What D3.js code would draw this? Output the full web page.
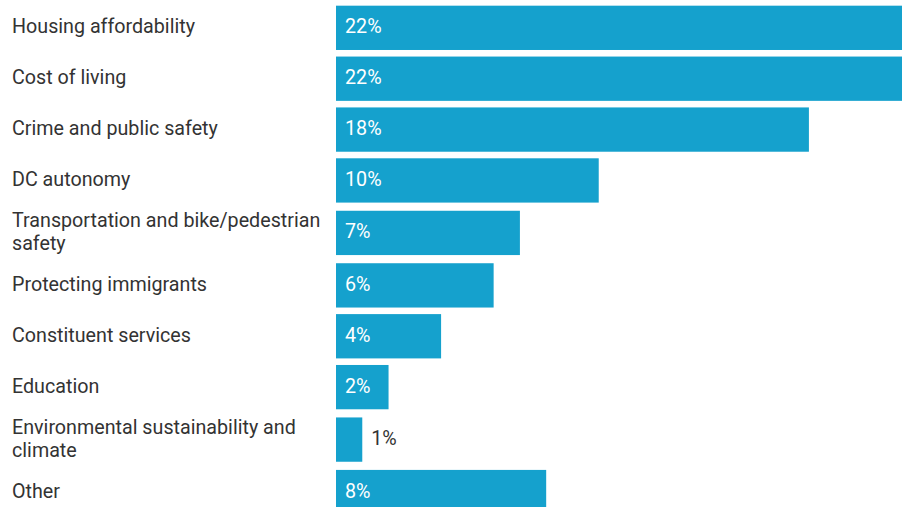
<!DOCTYPE html>
<html>
<head>
<meta charset="utf-8">
<script src="https://cdn.jsdelivr.net/npm/d3@7"></script>
<style>
  html, body { margin: 0; padding: 0; background: #fff; }
  svg { display: block; }
  text { font-family: Roboto, "Noto Sans", sans-serif; font-weight: 400; }
</style>
</head>
<body>
<svg id="chart" width="902" height="507"></svg>
<script>
const categories = [
  "Housing affordability",
  "Cost of living",
  "Crime and public safety",
  "DC autonomy",
  "Transportation and bike/pedestrian safety",
  "Protecting immigrants",
  "Constituent services",
  "Education",
  "Environmental sustainability and climate",
  "Other"
];
const values = [22, 22, 18, 10, 7, 6, 4, 2, 1, 8];
const valueLabels = ["22%", "22%", "18%", "10%", "7%", "6%", "4%", "2%", "1%", "8%"];

const W = 902, H = 507;
const barX0 = 336;
const labelX = 12;
const maxW = 318;
const lh = 23;
const fs = 19.7;
const dy = 5.5;
const rowBase = 50.87;     // slot height for a one-line row
const rowExtra = 3.2;      // extra slot height per additional label line
const barH = 44.3;
const top0 = 2.4;

const svg = d3.select("#chart");
const data = categories.map((c, i) => ({ c, v: values[i], label: valueLabels[i] }));

// 1) wrap category labels to find line counts
const catText = svg.selectAll("text.cat").data(data).join("text")
  .attr("class", "cat")
  .attr("x", labelX)
  .attr("font-size", fs)
  .attr("fill", "#333")
  .each(function(d) {
    const t = d3.select(this);
    const words = d.c.split(" ");
    const lines = [];
    let line = [];
    const tmp = t.append("tspan");
    for (const w of words) {
      line.push(w);
      tmp.text(line.join(" "));
      if (tmp.node().getComputedTextLength() > maxW && line.length > 1) {
        line.pop();
        lines.push(line.join(" "));
        line = [w];
      }
    }
    lines.push(line.join(" "));
    tmp.remove();
    d.lines = lines;
  });

// 2) row layout: each slot grows with the number of label lines
let acc = 0;
const slotStart = [], slotH = [];
data.forEach(d => {
  const h = rowBase + (d.lines.length - 1) * rowExtra;
  slotStart.push(acc); slotH.push(h); acc += h;
});
const yPix = d3.scaleLinear().domain([0, acc]).range([top0, top0 + acc]);
const yCenter = d3.scaleOrdinal().domain(categories)
  .range(data.map((d, i) => yPix(slotStart[i] + slotH[i] / 2)));

const x = d3.scaleLinear().domain([0, 22]).range([barX0, barX0 + 578]);

svg.insert("g", ":first-child").selectAll("rect.bar").data(data).join("rect")
  .attr("class", "bar")
  .attr("x", x(0))
  .attr("y", d => yCenter(d.c) - barH / 2)
  .attr("width", d => x(d.v) - x(0))
  .attr("height", barH)
  .attr("fill", "#15a1cd");

catText.each(function(d) {
  const t = d3.select(this);
  const cy = yCenter(d.c);
  const startY = cy - (d.lines.length - 1) * lh / 2 + dy;
  d.lines.forEach((l, i) => {
    t.append("tspan").attr("x", labelX).attr("y", startY + i * lh).text(l);
  });
});

// value labels
svg.selectAll("text.val").data(data).join("text")
  .attr("class", "val")
  .attr("font-size", fs)
  .attr("y", d => yCenter(d.c) + dy)
  .each(function(d) {
    const t = d3.select(this).text(d.label);
    const inside = (x(d.v) - x(0)) > 45;
    t.attr("x", inside ? x(0) + 9 : x(d.v) + 9)
     .attr("fill", inside ? "#fff" : "#333");
  });
</script>
</body>
</html>
